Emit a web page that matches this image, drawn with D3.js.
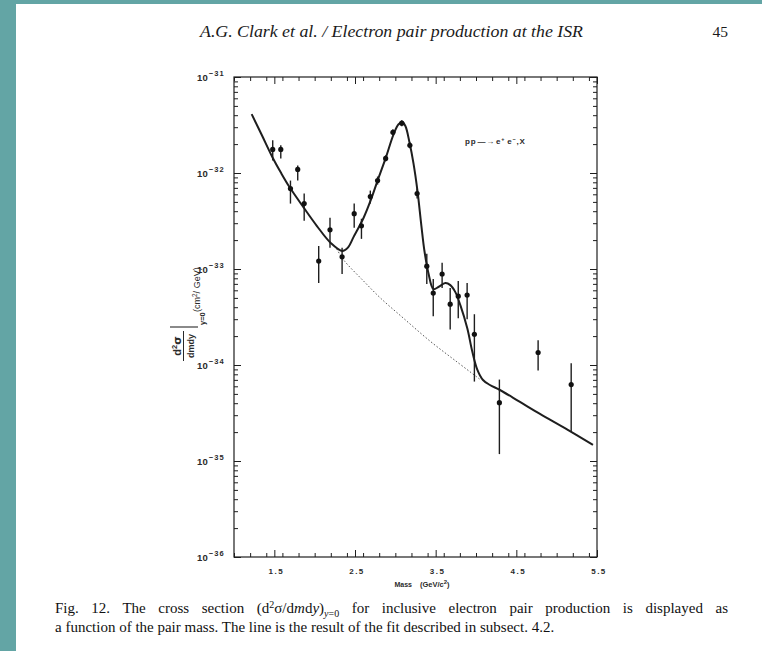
<!DOCTYPE html>
<html>
<head>
<meta charset="utf-8">
<script src="https://cdn.jsdelivr.net/npm/d3@7"></script>
<style>
  html, body { margin: 0; padding: 0; background: #fff; }
  svg { display: block; }
</style>
</head>
<body>
<svg id="page" width="762" height="651"></svg>
<script>
// Measured points: pair mass (GeV/c^2), cross section and error limits (cm^2/GeV)
const mass   = [1.48, 1.58, 1.70, 1.79, 1.87, 2.05, 2.19, 2.34, 2.49, 2.58, 2.69, 2.78, 2.88, 2.97,
                3.08, 3.18, 3.27, 3.39, 3.47, 3.58, 3.68, 3.78, 3.89, 3.98, 4.29, 4.77, 5.18];
const sigma  = [1.76e-32, 1.76e-32, 6.88e-33, 1.09e-32, 4.80e-33, 1.21e-33, 2.56e-33, 1.34e-33, 3.77e-33,
                2.82e-33, 5.68e-33, 8.34e-33, 1.42e-32, 2.65e-32, 3.30e-32, 1.94e-32, 6.10e-33, 1.07e-33,
                5.61e-34, 8.87e-34, 4.30e-34, 5.21e-34, 5.35e-34, 2.09e-34, 4.05e-35, 1.35e-34, 6.25e-35];
const errLow = [1.35e-32, 1.42e-32, 4.80e-33, 8.34e-33, 3.18e-33, 7.14e-34, 1.66e-33, 8.87e-34, 2.69e-33,
                2.06e-33, 4.80e-33, 7.58e-33, 1.32e-32, 2.47e-32, 3.07e-32, 1.81e-32, 5.41e-33, 6.97e-34,
                3.22e-34, 6.33e-34, 2.35e-34, 3.07e-34, 2.99e-34, 6.72e-35, 1.18e-35, 8.75e-35, 2.01e-35];
const errHigh = [2.19e-32, 1.94e-32, 8.34e-33, 1.20e-32, 6.10e-33, 1.74e-33, 3.42e-33, 1.66e-33, 4.80e-33,
                3.34e-33, 6.56e-33, 9.19e-33, 1.53e-32, 2.85e-32, 3.55e-32, 2.09e-32, 6.88e-33, 1.44e-33,
                7.86e-34, 1.16e-33, 6.33e-34, 7.48e-34, 7.14e-34, 3.38e-34, 7.05e-35, 1.81e-34, 1.04e-34];

// Fitted curve (continuum + J/psi + psi')
const fitMass  = [1.219, 1.346, 1.478, 1.581, 1.692, 1.865, 2.026, 2.199, 2.344, 2.409, 2.483, 2.607,
                  2.693, 2.780, 2.879, 2.978, 3.040, 3.089, 3.126, 3.175, 3.225, 3.274, 3.323, 3.361,
                  3.410, 3.472, 3.534, 3.620, 3.682, 3.744, 3.806, 3.892, 3.954, 4.016, 4.087, 4.173,
                  4.297, 4.545, 4.793, 5.128, 5.450];
const fitSigma = [4.10e-32, 2.47e-32, 1.45e-32, 1.01e-32, 7.05e-33, 4.35e-33, 2.82e-33, 1.87e-33, 1.54e-33,
                  1.66e-33, 2.16e-33, 3.42e-33, 5.15e-33, 8.34e-33, 1.42e-32, 2.53e-32, 3.22e-32, 3.38e-32,
                  3.07e-32, 2.09e-32, 1.26e-32, 6.56e-33, 2.82e-33, 1.54e-33, 9.08e-34, 6.18e-34, 6.49e-34,
                  7.13e-34, 6.79e-34, 5.74e-34, 4.20e-34, 2.41e-34, 1.38e-34, 8.97e-35, 6.98e-35, 6.19e-35,
                  5.49e-35, 4.12e-35, 3.09e-35, 2.13e-35, 1.47e-35];

// Continuum part of the fit under the resonances
const contMass  = [2.273, 2.360, 2.607, 2.817, 3.101, 3.435, 3.744, 4.053];
const contSigma = [1.62e-33, 1.24e-33, 7.48e-34, 4.97e-34, 3.07e-34, 1.76e-34, 1.11e-34, 7.05e-35];

// Axis ticks and labels
const massTicks       = [1.5, 2.5, 3.5, 4.5, 5.5];
const massTickLabels  = ["1.5", "2.5", "3.5", "4.5", "5.5"];
const decadeTicks     = [1e-31, 1e-32, 1e-33, 1e-34, 1e-35, 1e-36];
const decadeExponents = ["\u221231", "\u221232", "\u221233", "\u221234", "\u221235", "\u221236"];

const W = 762, H = 651;
const frame = { left: 234, right: 597, top: 77, bottom: 557 };
const column = { left: 55, right: 728 };

const svg = d3.select("#page");

// page and teal border
svg.append("rect").attr("width", W).attr("height", H).attr("fill", "#ffffff");
svg.append("rect").attr("x", 0).attr("y", 0).attr("width", 16).attr("height", H).attr("fill", "#63a5a5");
svg.append("rect").attr("x", 0).attr("y", 0).attr("width", W).attr("height", 4).attr("fill", "#63a5a5");

// running header
svg.append("text")
  .attr("x", (column.left + column.right) / 2).attr("y", 37)
  .attr("text-anchor", "middle")
  .attr("font-family", "Liberation Serif, serif").attr("font-style", "italic")
  .attr("font-size", 16).attr("fill", "#1a1a1a")
  .attr("textLength", 383).attr("lengthAdjust", "spacingAndGlyphs")
  .text("A.G. Clark et al. / Electron pair production at the ISR");
svg.append("text")
  .attr("x", column.right).attr("y", 37)
  .attr("text-anchor", "end")
  .attr("font-family", "Liberation Serif, serif")
  .attr("font-size", 15.5).attr("fill", "#1a1a1a")
  .text("45");

const x = d3.scaleLinear().domain([1.0, 5.5]).range([frame.left, frame.right]);
const y = d3.scaleLog().domain([1e-36, 1e-31]).range([frame.bottom, frame.top]);

const ink = "#1e1e1e";
const plot = svg.append("g");

// frame
plot.append("rect")
  .attr("x", frame.left).attr("y", frame.top)
  .attr("width", frame.right - frame.left).attr("height", frame.bottom - frame.top)
  .attr("fill", "none").attr("stroke", ink).attr("stroke-width", 1.2);

// minor tick values
const yMinor = [];
for (let e = -36; e < -31; e++) for (let k = 2; k <= 9; k++) yMinor.push(k * Math.pow(10, e));
const xMinor = d3.range(1.0, 5.5001, 0.2).filter(v => !massTicks.some(t => Math.abs(t - v) < 1e-6));

function tickAxis(gen, transform, values, size) {
  const g = plot.append("g").attr("transform", transform)
    .call(gen.tickValues(values).tickSize(size).tickFormat(""));
  g.select(".domain").remove();
  g.selectAll("line").attr("stroke", ink).attr("stroke-width", 1);
  return g;
}
// inward ticks on all four sides
tickAxis(d3.axisLeft(y), `translate(${frame.left},0)`, decadeTicks, -7);
tickAxis(d3.axisLeft(y), `translate(${frame.left},0)`, yMinor, -4);
tickAxis(d3.axisRight(y), `translate(${frame.right},0)`, decadeTicks, -7);
tickAxis(d3.axisRight(y), `translate(${frame.right},0)`, yMinor, -4);
tickAxis(d3.axisBottom(x), `translate(0,${frame.bottom})`, massTicks, -7);
tickAxis(d3.axisBottom(x), `translate(0,${frame.bottom})`, xMinor, -4);
tickAxis(d3.axisTop(x), `translate(0,${frame.top})`, massTicks, -7);
tickAxis(d3.axisTop(x), `translate(0,${frame.top})`, xMinor, -4);

// y tick labels 10^-n
const lblFont = "Liberation Sans, Arial, sans-serif";
decadeTicks.forEach((v, i) => {
  const t = plot.append("text")
    .attr("x", frame.left - 9).attr("y", y(v) + 3.5)
    .attr("text-anchor", "end")
    .attr("font-family", lblFont).attr("font-weight", "bold")
    .attr("font-size", 9.5).attr("fill", "#2a2a2a");
  t.append("tspan").text("10");
  t.append("tspan").attr("dy", -4.5).attr("dx", 1).attr("font-size", 7.5).attr("letter-spacing", 1.2)
    .text(decadeExponents[i]);
});

// x tick labels
massTicks.forEach((v, i) => {
  plot.append("text")
    .attr("x", x(v) + 2).attr("y", frame.bottom + 17)
    .attr("text-anchor", "middle")
    .attr("font-family", lblFont).attr("font-weight", "bold")
    .attr("font-size", 8).attr("letter-spacing", 1.5).attr("fill", "#2a2a2a")
    .text(massTickLabels[i]);
});

// x axis title
const xt = plot.append("text")
  .attr("x", 422).attr("y", frame.bottom + 30)
  .attr("text-anchor", "middle")
  .attr("font-family", lblFont).attr("fill", "#2a2a2a").attr("font-size", 7.5);
xt.append("tspan").attr("font-weight", "900").attr("font-size", 7).text("Mass");
xt.append("tspan").attr("dx", 8).attr("font-weight", "bold").text("(GeV/c");
xt.append("tspan").attr("dy", -3).attr("font-size", 6).attr("font-weight", "bold").text("2");
xt.append("tspan").attr("dy", 3).attr("font-weight", "bold").text(")");

// y axis title, rotated
const yt = plot.append("g").attr("transform", "translate(186,314) rotate(-90)")
  .attr("font-family", lblFont).attr("fill", "#2a2a2a").attr("font-weight", "bold");
const num = yt.append("text").attr("x", -32).attr("y", -5).attr("text-anchor", "middle").attr("font-size", 11);
num.append("tspan").text("d");
num.append("tspan").attr("dy", -4).attr("font-size", 7.5).text("2");
num.append("tspan").attr("dy", 4).attr("font-family", "DejaVu Sans, sans-serif").text("\u03c3");
yt.append("line").attr("x1", -47).attr("x2", -17).attr("y1", -2.5).attr("y2", -2.5)
  .attr("stroke", "#2a2a2a").attr("stroke-width", 1);
yt.append("text").attr("x", -32).attr("y", 7.5).attr("text-anchor", "middle").attr("font-size", 9).text("dmdy");
yt.append("line").attr("x1", -13).attr("x2", -13).attr("y1", -16).attr("y2", 12)
  .attr("stroke", "#2a2a2a").attr("stroke-width", 1.1);
yt.append("text").attr("x", -11).attr("y", 19).attr("font-size", 7.5).text("y=0");
const units = yt.append("text").attr("x", 2).attr("y", 14).attr("font-size", 9).attr("font-weight", "normal");
units.append("tspan").text("(cm");
units.append("tspan").attr("dy", -3.5).attr("font-size", 6.5).text("2");
units.append("tspan").attr("dy", 3.5).text("/ GeV)");

// reaction label
const react = plot.append("text")
  .attr("x", 465).attr("y", 144)
  .attr("font-family", lblFont).attr("font-weight", "bold")
  .attr("font-size", 8).attr("letter-spacing", 0.8).attr("fill", "#2a2a2a");
react.append("tspan").text("pp");
react.append("tspan").attr("dx", 1).text("\u2014\u2192");
react.append("tspan").attr("dx", 1).text("e");
react.append("tspan").attr("dy", -3).attr("font-size", 5.5).text("+");
react.append("tspan").attr("dy", 3).attr("dx", 2).text("e");
react.append("tspan").attr("dy", -3).attr("font-size", 5.5).text("\u2212");
react.append("tspan").attr("dy", 3).text(",X");

// continuum (dotted)
const line = d3.line().x(d => x(d[0])).y(d => y(d[1])).curve(d3.curveCatmullRom.alpha(0.5));
plot.append("path")
  .datum(d3.zip(contMass, contSigma))
  .attr("d", line)
  .attr("fill", "none").attr("stroke", "#444").attr("stroke-width", 0.9)
  .attr("stroke-dasharray", "1.5,2");

// full fit
plot.append("path")
  .datum(d3.zip(fitMass, fitSigma))
  .attr("d", line)
  .attr("fill", "none").attr("stroke", ink).attr("stroke-width", 2);

// data points with error bars
const pts = mass.map((m, i) => ({ m, s: sigma[i], lo: errLow[i], hi: errHigh[i] }));
plot.append("g").selectAll("line").data(pts).join("line")
  .attr("x1", d => x(d.m)).attr("x2", d => x(d.m))
  .attr("y1", d => y(d.lo)).attr("y2", d => y(d.hi))
  .attr("stroke", ink).attr("stroke-width", 1.4);
plot.append("g").selectAll("circle").data(pts).join("circle")
  .attr("cx", d => x(d.m)).attr("cy", d => y(d.s)).attr("r", 2.6)
  .attr("fill", "#111");

// caption: first line justified to the column, last line ragged
const cap = svg.append("g").attr("font-family", "Liberation Serif, serif").attr("font-size", 15).attr("fill", "#111");
const c1 = cap.append("text").attr("x", column.left).attr("y", 613);
c1.append("tspan").text("Fig. 12. The cross section (d");
c1.append("tspan").attr("dy", -5).attr("font-size", 10).text("2");
c1.append("tspan").attr("dy", 5).text("\u03c3/d");
c1.append("tspan").attr("font-style", "italic").text("m");
c1.append("tspan").text("d");
c1.append("tspan").attr("font-style", "italic").text("y");
c1.append("tspan").text(")");
c1.append("tspan").attr("dy", 4).attr("font-size", 10).attr("font-style", "italic").text("y");
c1.append("tspan").attr("font-size", 10).text("=0");
c1.append("tspan").attr("dy", -4).text(" for inclusive electron pair production is displayed as");
const natural = c1.node().getComputedTextLength();
const gaps = (c1.text().match(/ /g) || []).length;
c1.attr("word-spacing", Math.max(0, (column.right - column.left - natural) / gaps));
cap.append("text").attr("x", column.left).attr("y", 632)
  .text("a function of the pair mass. The line is the result of the fit described in subsect. 4.2.");
</script>
</body>
</html>
